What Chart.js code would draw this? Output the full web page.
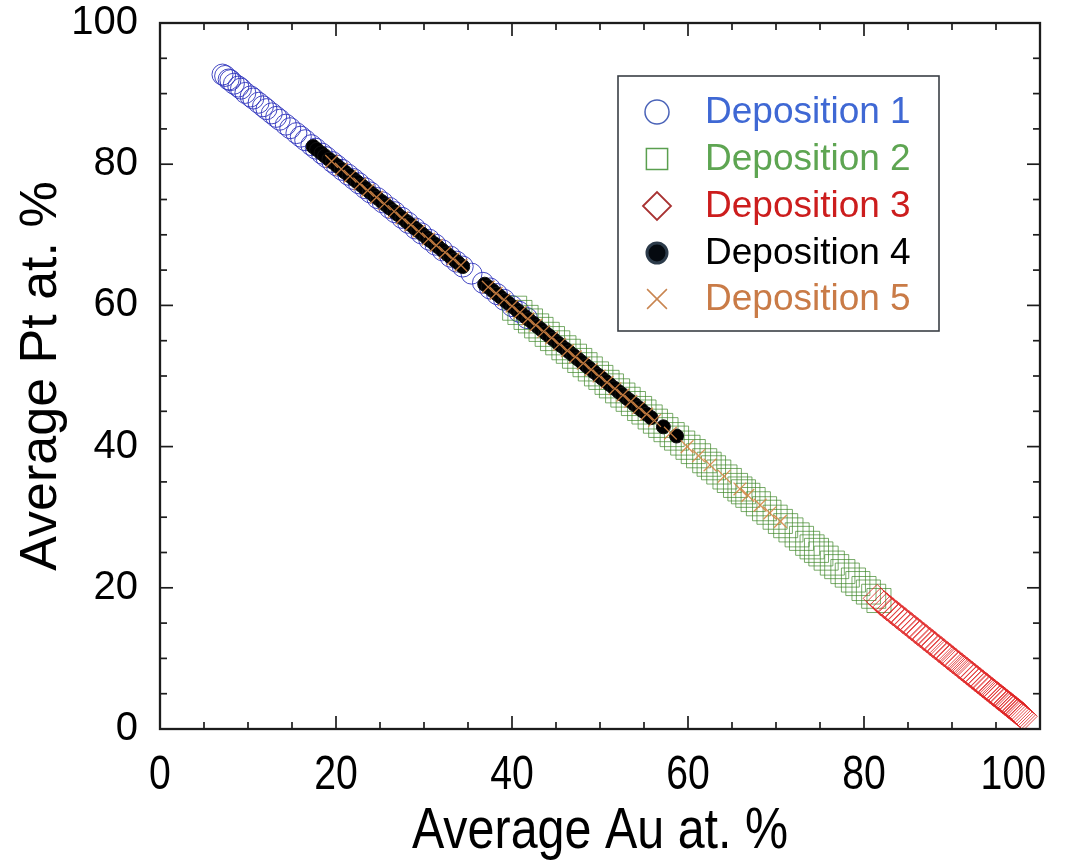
<!DOCTYPE html>
<html>
<head>
<meta charset="utf-8">
<script src="https://cdn.jsdelivr.net/npm/chart.js@4.4.1/dist/chart.umd.min.js"></script>
<style>
  html, body { margin: 0; padding: 0; background: #ffffff; }
  #wrap { width: 1068px; height: 861px; }
</style>
</head>
<body>
<div id="wrap"><canvas id="c" width="1068" height="861"></canvas></div>
<script>
// Composition of deposited Au–Pt films: average Au vs. average Pt (at. %)
const seriesNames = ['Deposition 1', 'Deposition 2', 'Deposition 3', 'Deposition 4', 'Deposition 5'];
const xTickValues = [0, 20, 40, 60, 80, 100];
const yTickValues = [0, 20, 40, 60, 80, 100];
const xTitle = 'Average Au at. %';
const yTitle = 'Average Pt at. %';

const dep1Au = [7.1, 7.4, 7.8, 8.0, 8.4, 8.9, 9.2, 9.7, 10.3, 10.6, 11.2, 11.7, 12.1, 12.7, 13.2, 13.6, 14.3, 14.8, 15.5, 16.0,
  16.5, 17.2, 17.7, 18.4, 18.9, 19.6, 20.1, 20.7, 21.4, 22.0, 22.6, 23.3, 23.9, 24.7, 25.3, 26.1, 26.7, 27.5, 28.2, 29.0,
  29.7, 30.6, 31.3, 32.1, 33.0, 33.7, 34.4, 35.4, 36.7, 37.5, 38.3, 39.1, 40.0, 40.8, 41.7];
const dep1Pt = [92.7, 92.5, 92.0, 91.9, 91.4, 91.0, 90.7, 90.1, 89.6, 89.3, 88.7, 88.2, 87.8, 87.2, 86.7, 86.3, 85.6, 85.1, 84.4, 83.9,
  83.4, 82.7, 82.2, 81.5, 81.0, 80.3, 79.8, 79.2, 78.5, 77.9, 77.3, 76.6, 76.0, 75.2, 74.6, 73.8, 73.2, 72.4, 71.7, 70.9,
  70.2, 69.3, 68.6, 67.8, 66.9, 66.2, 65.5, 64.5, 63.2, 62.4, 61.6, 60.8, 59.9, 59.1, 58.2];

const dep2Au = [40.3, 40.9, 41.6, 42.1, 42.8, 43.3, 44.0, 44.6, 45.2, 45.9, 46.4, 47.1, 47.7, 48.3, 48.9, 49.6, 50.1, 50.8, 51.3, 52.0,
  52.6, 53.2, 53.8, 54.5, 55.0, 55.7, 56.3, 56.9, 57.5, 58.2, 58.7, 59.4, 60.0, 60.6, 61.2, 61.9, 62.4, 62.9, 63.5, 64.2,
  64.7, 65.4, 65.9, 66.3, 66.8, 67.4, 68.0, 68.7, 69.2, 69.9, 70.5, 71.1, 71.7, 72.4, 72.9, 73.6, 74.1, 74.6, 75.1, 75.7,
  76.4, 76.9, 77.6, 78.1, 78.8, 79.3, 80.0, 80.5, 81.1, 81.7];
const dep2Pt = [59.6, 59.0, 58.3, 57.8, 57.1, 56.6, 55.9, 55.3, 54.7, 54.0, 53.5, 52.8, 52.2, 51.6, 51.0, 50.3, 49.8, 49.1, 48.6, 47.9,
  47.3, 46.7, 46.1, 45.4, 44.9, 44.2, 43.6, 43.0, 42.4, 41.7, 41.2, 40.5, 39.9, 39.3, 38.7, 38.0, 37.5, 37.0, 36.4, 35.7,
  35.2, 34.5, 34.0, 33.6, 33.1, 32.5, 31.9, 31.2, 30.7, 30.0, 29.4, 28.8, 28.2, 27.5, 27.0, 26.3, 25.8, 25.3, 24.8, 24.2,
  23.5, 23.0, 22.3, 21.8, 21.1, 20.6, 19.9, 19.4, 18.8, 18.2];

const dep3Au = [81.5, 81.9, 82.3, 82.6, 83.0, 83.3, 83.7, 84.0, 84.4, 84.7, 85.1, 85.4, 85.8, 86.1, 86.4, 86.8, 87.1, 87.5, 87.8, 88.1,
  88.5, 88.8, 89.1, 89.5, 89.8, 90.1, 90.4, 90.8, 91.1, 91.4, 91.7, 92.0, 92.3, 92.6, 92.9, 93.2, 93.5, 93.8, 94.0, 94.3,
  94.6, 94.8, 95.1, 95.3, 95.6, 95.8, 96.0, 96.3, 96.5, 96.7, 96.9, 97.1, 97.3, 97.5, 97.7, 97.9, 98.1];
const dep3Pt = [18.5, 18.0, 17.6, 17.3, 16.9, 16.6, 16.2, 15.9, 15.5, 15.2, 14.8, 14.5, 14.1, 13.8, 13.5, 13.1, 12.8, 12.4, 12.1, 11.8,
  11.4, 11.1, 10.8, 10.4, 10.1, 9.8, 9.5, 9.1, 8.8, 8.5, 8.2, 7.9, 7.6, 7.3, 7.0, 6.7, 6.4, 6.1, 5.9, 5.6,
  5.3, 5.1, 4.8, 4.6, 4.3, 4.1, 3.9, 3.6, 3.4, 3.2, 3.0, 2.8, 2.6, 2.4, 2.2, 2.0, 1.8];

const dep4Au = [17.4, 17.8, 18.3, 18.7, 19.2, 19.6, 20.1, 20.6, 21.0, 21.5, 22.0, 22.4, 22.9, 23.3, 23.8, 24.3, 24.7, 25.2, 25.7, 26.1,
  26.6, 27.0, 27.5, 28.0, 28.4, 28.9, 29.3, 29.8, 30.3, 30.7, 31.2, 31.6, 32.1, 32.6, 33.0, 33.5, 33.9, 34.4,
  36.9, 37.3, 37.8, 38.3, 38.7, 39.2, 39.6, 40.1, 40.6, 41.0, 41.5, 41.9, 42.4, 42.9, 43.3, 43.8, 44.2, 44.7, 45.2, 45.6,
  46.1, 46.5, 47.0, 47.5, 47.9, 48.4, 48.8, 49.3, 49.8, 50.2, 50.7, 51.1, 51.6, 52.1, 52.5, 53.0, 53.4, 53.9, 54.4, 54.8,
  55.3, 55.8, 57.2, 58.7];
const dep4Pt = [82.5, 82.1, 81.6, 81.2, 80.7, 80.3, 79.8, 79.3, 78.9, 78.4, 77.9, 77.5, 77.0, 76.6, 76.1, 75.6, 75.2, 74.7, 74.2, 73.8,
  73.3, 72.9, 72.4, 71.9, 71.5, 71.0, 70.6, 70.1, 69.6, 69.2, 68.7, 68.3, 67.8, 67.3, 66.9, 66.4, 66.0, 65.5,
  63.0, 62.6, 62.1, 61.6, 61.2, 60.7, 60.3, 59.8, 59.3, 58.9, 58.4, 58.0, 57.5, 57.0, 56.6, 56.1, 55.7, 55.2, 54.7, 54.3,
  53.8, 53.4, 52.9, 52.4, 52.0, 51.5, 51.1, 50.6, 50.1, 49.7, 49.2, 48.8, 48.3, 47.8, 47.4, 46.9, 46.5, 46.0, 45.5, 45.1,
  44.6, 44.1, 42.8, 41.5];

const dep5Au = [19.5, 20.6, 21.6, 22.7, 23.6, 24.6, 25.5, 26.6, 27.5, 28.5, 29.4, 30.5, 31.4, 32.4, 33.3, 34.2,
  37.3, 38.2, 39.1, 40.0, 40.9, 41.8, 42.7, 43.6, 44.5, 45.4, 46.3, 47.2, 48.1, 49.0, 49.9, 50.8, 51.7, 52.6, 53.5, 54.4,
  55.3, 56.2, 58.0, 59.9, 61.2, 62.5, 64.1, 65.9, 66.8, 68.2, 69.3, 70.5];
const dep5Pt = [80.4, 79.3, 78.3, 77.2, 76.3, 75.3, 74.4, 73.3, 72.4, 71.4, 70.5, 69.4, 68.5, 67.5, 66.6, 65.7,
  62.6, 61.7, 60.8, 59.9, 59.0, 58.1, 57.2, 56.3, 55.4, 54.5, 53.6, 52.7, 51.8, 50.9, 50.0, 49.1, 48.2, 47.3, 46.4, 45.5,
  44.6, 43.7, 41.9, 40.0, 38.7, 37.4, 35.8, 34.0, 33.1, 31.7, 30.6, 29.4];

const pairUp = (xs, ys) => xs.map((v, i) => ({ x: v, y: ys[i] }));

// legend styling (text colour + marker look per series)
const legendTextColors = ['#3f68d4', '#5ea552', '#cc1d1d', '#000000', '#c97b47'];
const legendMarkers = [
  { pointStyle: 'circle',   radius: 12, stroke: '#4a63b8', fill: 'rgba(0,0,0,0)', width: 1.5 },
  { pointStyle: 'rect',     radius: 15, stroke: '#5a9f4f', fill: 'rgba(0,0,0,0)', width: 1.5 },
  { pointStyle: 'rectRot',  radius: 14, stroke: '#a83232', fill: 'rgba(0,0,0,0)', width: 1.8 },
  { pointStyle: 'circle',   radius: 10, stroke: '#2c3b4a', fill: '#050a10', width: 3 },
  { pointStyle: 'crossRot', radius: 14, stroke: '#c98550', fill: 'rgba(0,0,0,0)', width: 1.5 }
];

// boxed frame with inward major (every 20) and minor (every 5) ticks on all four sides
const frameTicks = {
  id: 'frameTicks',
  afterDatasetsDraw(chart) {
    const { ctx, chartArea: a, scales } = chart;
    const sx = scales.x, sy = scales.y;
    ctx.save();
    ctx.strokeStyle = '#1c1c1c';
    ctx.lineWidth = 1.7;
    const seg = (x1, y1, x2, y2) => { ctx.beginPath(); ctx.moveTo(x1, y1); ctx.lineTo(x2, y2); ctx.stroke(); };
    for (let v = sx.min; v <= sx.max; v += 5) {
      const p = sx.getPixelForValue(v);
      const len = v % 20 === 0 ? 13 : 7;
      seg(p, a.bottom, p, a.bottom - len);
      seg(p, a.top, p, a.top + len);
    }
    for (let v = sy.min; v <= sy.max; v += 5) {
      const p = sy.getPixelForValue(v);
      const len = v % 20 === 0 ? 13 : 7;
      seg(a.left, p, a.left + len, p);
      seg(a.right, p, a.right - len, p);
    }
    ctx.lineWidth = 2.3;
    ctx.strokeRect(a.left, a.top, a.right - a.left, a.bottom - a.top);
    ctx.restore();
  }
};

// narrow-set x tick labels and x title, positioned from the x scale
const xAxisText = {
  id: 'xAxisText',
  afterDraw(chart) {
    const { ctx, chartArea: a, scales, width } = chart;
    const sx = scales.x;
    ctx.save();
    ctx.fillStyle = '#000000';
    ctx.textAlign = 'center';
    ctx.textBaseline = 'alphabetic';
    const squeeze = 0.8;
    ctx.font = '49px "Liberation Sans", Arial, sans-serif';
    xTickValues.forEach(v => {
      const label = String(v);
      const w = ctx.measureText(label).width * squeeze;
      const cx = Math.min(sx.getPixelForValue(v), width - 22 - w / 2);
      ctx.save();
      ctx.translate(cx, 789);
      ctx.scale(squeeze, 1);
      ctx.fillText(label, 0, 0);
      ctx.restore();
    });
    ctx.font = '57px "Liberation Sans", Arial, sans-serif';
    ctx.save();
    ctx.translate((a.left + a.right) / 2, 848);
    ctx.scale(0.85, 1);
    ctx.fillText(xTitle, 0, 0);
    ctx.restore();
    ctx.restore();
  }
};

const boxLegend = {
  id: 'boxLegend',
  afterDraw(chart) {
    const { ctx } = chart;
    const box = { left: 618, top: 76, right: 939, bottom: 331 };
    ctx.save();
    ctx.fillStyle = '#ffffff';
    ctx.fillRect(box.left, box.top, box.right - box.left, box.bottom - box.top);
    ctx.strokeStyle = '#3a3f45';
    ctx.lineWidth = 1.6;
    ctx.strokeRect(box.left, box.top, box.right - box.left, box.bottom - box.top);
    const rowY = [112, 159, 206, 253, 299];
    ctx.font = '37px "Liberation Sans", Arial, sans-serif';
    ctx.textBaseline = 'middle';
    ctx.textAlign = 'left';
    seriesNames.forEach((name, i) => {
      const m = legendMarkers[i];
      ctx.strokeStyle = m.stroke;
      ctx.fillStyle = m.fill;
      ctx.lineWidth = m.width;
      Chart.helpers.drawPoint(ctx, { pointStyle: m.pointStyle, radius: m.radius, rotation: 0, borderWidth: m.width }, 657, rowY[i]);
      ctx.fillStyle = legendTextColors[i];
      ctx.fillText(name, 705, rowY[i] + 1);
    });
    ctx.restore();
  }
};

new Chart(document.getElementById('c'), {
  type: 'scatter',
  data: {
    datasets: [
      { label: seriesNames[0], data: pairUp(dep1Au, dep1Pt), pointStyle: 'circle', pointRadius: 10.5,
        borderColor: 'rgba(48,52,188,0.9)', backgroundColor: 'rgba(0,0,0,0)', pointBorderWidth: 1, order: 5 },
      { label: seriesNames[1], data: pairUp(dep2Au, dep2Pt), pointStyle: 'rect', pointRadius: 17,
        borderColor: 'rgba(62,136,42,0.7)', backgroundColor: 'rgba(0,0,0,0)', pointBorderWidth: 1, order: 4 },
      { label: seriesNames[2], data: pairUp(dep3Au, dep3Pt), pointStyle: 'rectRot', pointRadius: 14,
        borderColor: 'rgba(222,30,30,0.8)', backgroundColor: 'rgba(0,0,0,0)', pointBorderWidth: 1, order: 3 },
      { label: seriesNames[3], data: pairUp(dep4Au, dep4Pt), pointStyle: 'circle', pointRadius: 7,
        borderColor: '#111111', backgroundColor: '#000000', pointBorderWidth: 1, order: 2 },
      { label: seriesNames[4], data: pairUp(dep5Au, dep5Pt), pointStyle: 'crossRot', pointRadius: 9,
        borderColor: 'rgba(214,135,70,0.9)', backgroundColor: 'rgba(0,0,0,0)', pointBorderWidth: 1.3, order: 1 }
    ]
  },
  options: {
    responsive: false,
    animation: false,
    devicePixelRatio: 1,
    layout: { padding: { top: 23, right: 28, left: 0, bottom: 0 } },
    plugins: { legend: { display: false }, tooltip: { enabled: false } },
    scales: {
      x: {
        type: 'linear', min: 0, max: 100,
        afterBuildTicks: s => { s.ticks = xTickValues.map(v => ({ value: v })); },
        afterFit: s => { s.height = 132; s.paddingLeft = 0; s.paddingRight = 0; },
        grid: { display: false, drawTicks: false },
        border: { display: false },
        ticks: { display: false },
        title: { display: false, text: xTitle }
      },
      y: {
        type: 'linear', min: 0, max: 100,
        afterBuildTicks: s => { s.ticks = yTickValues.map(v => ({ value: v })); },
        afterFit: s => { s.width = 160; s.paddingTop = 0; s.paddingBottom = 0; },
        grid: { display: false, drawTicks: false },
        border: { display: false },
        ticks: { color: '#000', padding: 22,
          font: { family: '"Liberation Sans", Arial, sans-serif', size: 40 } },
        title: { display: true, text: yTitle, color: '#000',
          font: { family: '"Liberation Sans", Arial, sans-serif', size: 52, lineHeight: 1.0 },
          padding: { top: 16, bottom: 0 } }
      }
    }
  },
  plugins: [frameTicks, xAxisText, boxLegend]
});
</script>
</body>
</html>
